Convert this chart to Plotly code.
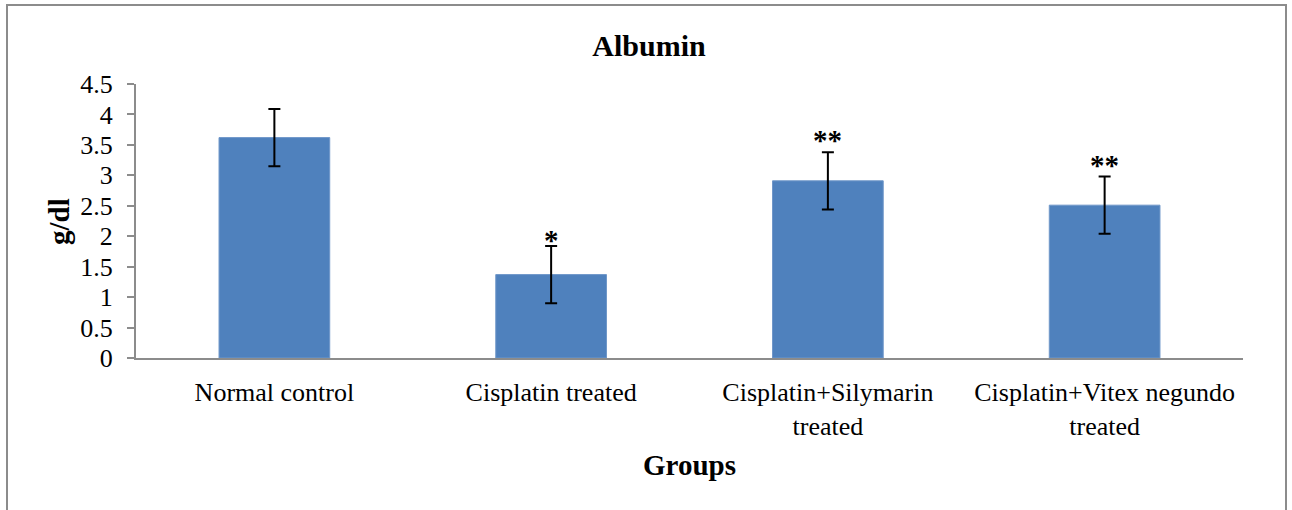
import plotly.graph_objects as go

categories = ["Normal control", "Cisplatin treated", "Cisplatin+Silymarin<br>treated", "Cisplatin+Vitex negundo<br>treated"]
values = [3.62, 1.37, 2.91, 2.51]
errors = [0.47, 0.47, 0.47, 0.47]
marks = ["", "*", "**", "**"]
y_ticks = [0, 0.5, 1, 1.5, 2, 2.5, 3, 3.5, 4, 4.5]
y_tick_text = ["0", "0.5", "1", "1.5", "2", "2.5", "3", "3.5", "4", "4.5"]

W, H = 1292, 510
OFF = 0  # page body margin removed via post_script
# target plot area in screen pixels
SX0, SX1, SY0, SY1 = 136, 1243, 84, 358
L = SX0 - OFF
R = W - (SX1 - OFF)
T = SY0 - OFF
B = H - (SY1 - OFF)
pw, ph = W - L - R, H - T - B

def px_to_paper_x(px):
    return (px - SX0) / pw

def px_to_paper_y(py):
    return (SY1 - py) / ph

FONT = "Liberation Serif, Times New Roman, serif"

fig = go.Figure()
fig.add_trace(go.Bar(
    x=categories, y=values,
    marker=dict(color="#4F81BD", line=dict(color="#6F97C9", width=1)),
    error_y=dict(type="data", array=errors, visible=True, color="black", thickness=2, width=6),
    width=0.4,
))

mark_shift = [0, -12, -6, -6]
annotations = []
for c, v, e, m, s in zip(categories, values, errors, marks, mark_shift):
    if m:
        annotations.append(dict(x=c, y=v + e, text=f"<b>{m}</b>", showarrow=False,
                                xref="x", yref="y", yanchor="bottom", yshift=s,
                                font=dict(family=FONT, size=29, color="black")))

annotations.append(dict(x=px_to_paper_x(59), y=px_to_paper_y(222), xref="paper", yref="paper",
                        xanchor="center", yanchor="middle",
                        text="<b>g/dl</b>", textangle=-90, showarrow=False,
                        font=dict(family=FONT, size=29, color="black")))
annotations.append(dict(x=px_to_paper_x(689), y=px_to_paper_y(465), xref="paper", yref="paper",
                        xanchor="center", yanchor="middle",
                        text="<b>Groups</b>", showarrow=False,
                        font=dict(family=FONT, size=29, color="black")))

fig.update_layout(
    width=W, height=H,
    margin=dict(l=L, r=R, t=T, b=B, autoexpand=False),
    paper_bgcolor="white", plot_bgcolor="white",
    showlegend=False,
    title=dict(text="<b>Albumin</b>", x=(649 - OFF) / W, xref="container", xanchor="center",
               y=1 - (45 - OFF) / H, yref="container", yanchor="middle",
               font=dict(family=FONT, size=30, color="black")),
    font=dict(family=FONT, size=26, color="black"),
    annotations=annotations,
    shapes=[dict(type="rect", xref="paper", yref="paper",
                 x0=px_to_paper_x(7), x1=px_to_paper_x(1286),
                 y0=px_to_paper_y(530), y1=px_to_paper_y(5),
                 line=dict(color="#8C8C8C", width=2), fillcolor="rgba(0,0,0,0)")],
)
fig.update_xaxes(showline=True, linecolor="#8C8C8C", linewidth=2, ticks="",
                 showgrid=False, tickfont=dict(family=FONT, size=26, color="black"),
                 ticklabelstandoff=10)
fig.update_yaxes(range=[0, 4.5], tickvals=y_ticks, ticktext=y_tick_text,
                 showline=True, linecolor="#8C8C8C", linewidth=2,
                 ticks="outside", ticklen=7, tickcolor="#8C8C8C", tickwidth=2,
                 showgrid=False, zeroline=False,
                 tickfont=dict(family=FONT, size=26, color="black"),
                 ticklabelstandoff=9)

fig.write_html("out.html", config={"displayModeBar": False},
               post_script="document.body.style.margin='0';document.body.style.overflow='hidden';")
